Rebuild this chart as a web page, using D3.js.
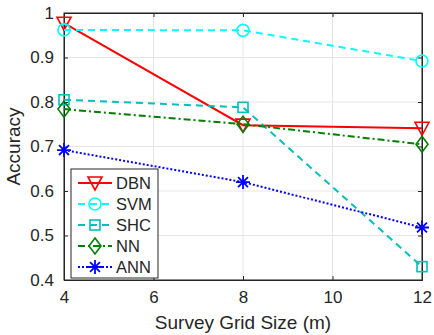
<!DOCTYPE html>
<html lang="en">
<head>
<meta charset="UTF-8">
<title>Accuracy vs grid size</title>
<script src="https://d3js.org/d3.v7.min.js"></script>
<style>
    body { margin: 0; background: #fff; }
    text { font-family: "Liberation Sans", Arial, sans-serif; fill: #262626; }
</style>
</head>
<body>
<script>
    var gridSizes = [4, 8, 12];
    var dbn = [0.977, 0.748, 0.741];
    var svm = [0.962, 0.961, 0.892];
    var shc = [0.805, 0.788, 0.430];
    var nn = [0.784, 0.750, 0.705];
    var ann = [0.692, 0.620, 0.518];
    var xTicks = [4, 6, 8, 10, 12];
    var yTicks = [0.4, 0.5, 0.6, 0.7, 0.8, 0.9, 1];

    var series = [
        {name: 'DBN', values: dbn, color: '#ff0000', dash: null, marker: 'tri'},
        {name: 'SVM', values: svm, color: '#00ffff', dash: '7,5', marker: 'circle'},
        {name: 'SHC', values: shc, color: '#00bfbf', dash: '7,5', marker: 'square'},
        {name: 'NN', values: nn, color: '#007f00', dash: '7,3,2,3', marker: 'diamond'},
        {name: 'ANN', values: ann, color: '#0000ff', dash: '2,2', marker: 'star'}
    ];

    var width = 434, height = 335;
    var pLeft = 64, pRight = 422, pTop = 13, pBottom = 280;

    var svg = d3.select('body').append('svg')
        .attr('width', width)
        .attr('height', height);

    var x = d3.scaleLinear().domain([4, 12]).range([pLeft, pRight]);
    var y = d3.scaleLinear().domain([0.4, 1]).range([pBottom, pTop]);

    // grid
    var grid = svg.append('g');
    xTicks.forEach(function (t) {
        grid.append('line').attr('x1', x(t)).attr('x2', x(t)).attr('y1', pTop).attr('y2', pBottom)
            .attr('stroke', '#e6e6e6').attr('stroke-width', 1);
    });
    yTicks.forEach(function (t) {
        grid.append('line').attr('x1', pLeft).attr('x2', pRight).attr('y1', y(t)).attr('y2', y(t))
            .attr('stroke', '#e6e6e6').attr('stroke-width', 1);
    });

    // axes (MATLAB style inward ticks)
    var xAxis = d3.axisBottom(x).tickValues(xTicks).tickSize(-4).tickPadding(11).tickFormat(d3.format('d'));
    var yAxis = d3.axisLeft(y).tickValues(yTicks).tickSize(-4).tickPadding(10)
        .tickFormat(function (d) { return d === 1 ? '1' : d3.format('.1f')(d); });

    svg.append('g').attr('transform', 'translate(0,' + pBottom + ')').call(xAxis);
    svg.append('g').attr('transform', 'translate(' + pLeft + ',0)').call(yAxis);
    svg.append('g').attr('transform', 'translate(0,' + pTop + ')')
        .call(d3.axisTop(x).tickValues(xTicks).tickSize(-4).tickFormat(''));
    svg.append('g').attr('transform', 'translate(' + pRight + ',0)')
        .call(d3.axisRight(y).tickValues(yTicks).tickSize(-4).tickFormat(''));
    svg.selectAll('.domain').attr('stroke', '#262626');
    svg.selectAll('.tick line').attr('stroke', '#262626');
    svg.selectAll('.tick text').style('font-size', '17px').attr('fill', '#262626');

    svg.append('rect').attr('x', pLeft).attr('y', pTop).attr('width', pRight - pLeft).attr('height', pBottom - pTop)
        .attr('fill', 'none').attr('stroke', '#262626').attr('stroke-width', 1);

    svg.append('text').attr('x', (pLeft + pRight) / 2).attr('y', 329)
        .attr('text-anchor', 'middle').style('font-size', '19px').text('Survey Grid Size (m)');
    svg.append('text').attr('transform', 'translate(20,' + ((pTop + pBottom) / 2) + ') rotate(-90)')
        .attr('text-anchor', 'middle').style('font-size', '19px').text('Accuracy');

    function drawMarker(g, type, cx, cy, color) {
        if (type === 'tri') {
            g.append('path').attr('d', 'M' + (cx - 7) + ',' + (cy - 6) + 'L' + (cx + 7) + ',' + (cy - 6) + 'L' + cx + ',' + (cy + 7) + 'Z')
                .attr('fill', 'none').attr('stroke', color).attr('stroke-width', 1.6);
        } else if (type === 'circle') {
            g.append('circle').attr('cx', cx).attr('cy', cy).attr('r', 6)
                .attr('fill', 'none').attr('stroke', color).attr('stroke-width', 1.6);
        } else if (type === 'square') {
            g.append('rect').attr('x', cx - 5).attr('y', cy - 5).attr('width', 10).attr('height', 10)
                .attr('fill', 'none').attr('stroke', color).attr('stroke-width', 1.6);
        } else if (type === 'diamond') {
            g.append('path').attr('d', 'M' + cx + ',' + (cy - 8) + 'L' + (cx + 6) + ',' + cy + 'L' + cx + ',' + (cy + 8) + 'L' + (cx - 6) + ',' + cy + 'Z')
                .attr('fill', 'none').attr('stroke', color).attr('stroke-width', 1.6);
        } else if (type === 'star') {
            var r = 7, p = '';
            [0, 45, 90, 135].forEach(function (a) {
                var rad = a * Math.PI / 180;
                p += 'M' + (cx - r * Math.cos(rad)) + ',' + (cy - r * Math.sin(rad)) + 'L' + (cx + r * Math.cos(rad)) + ',' + (cy + r * Math.sin(rad));
            });
            g.append('path').attr('d', p).attr('stroke', color).attr('stroke-width', 1.8);
        }
    }

    var line = d3.line().x(function (d, i) { return x(gridSizes[i]); }).y(function (d) { return y(d); });

    series.forEach(function (s) {
        var g = svg.append('g');
        g.append('path').datum(s.values).attr('d', line)
            .attr('fill', 'none').attr('stroke', s.color).attr('stroke-width', 2)
            .attr('stroke-dasharray', s.dash);
        s.values.forEach(function (v, i) {
            drawMarker(g, s.marker, x(gridSizes[i]), y(v), s.color);
        });
    });

    // legend
    var lg = svg.append('g');
    lg.append('rect').attr('x', 71).attr('y', 169).attr('width', 87).attr('height', 109)
        .attr('fill', '#fff').attr('stroke', '#262626').attr('stroke-width', 1);
    series.forEach(function (s, i) {
        var ly = 183 + i * 21;
        lg.append('line').attr('x1', 78).attr('x2', 112).attr('y1', ly).attr('y2', ly)
            .attr('stroke', s.color).attr('stroke-width', 2).attr('stroke-dasharray', s.dash);
        drawMarker(lg, s.marker, 95, ly, s.color);
        lg.append('text').attr('x', 116).attr('y', ly + 6).style('font-size', '16.5px').text(s.name);
    });
</script>
</body>
</html>
